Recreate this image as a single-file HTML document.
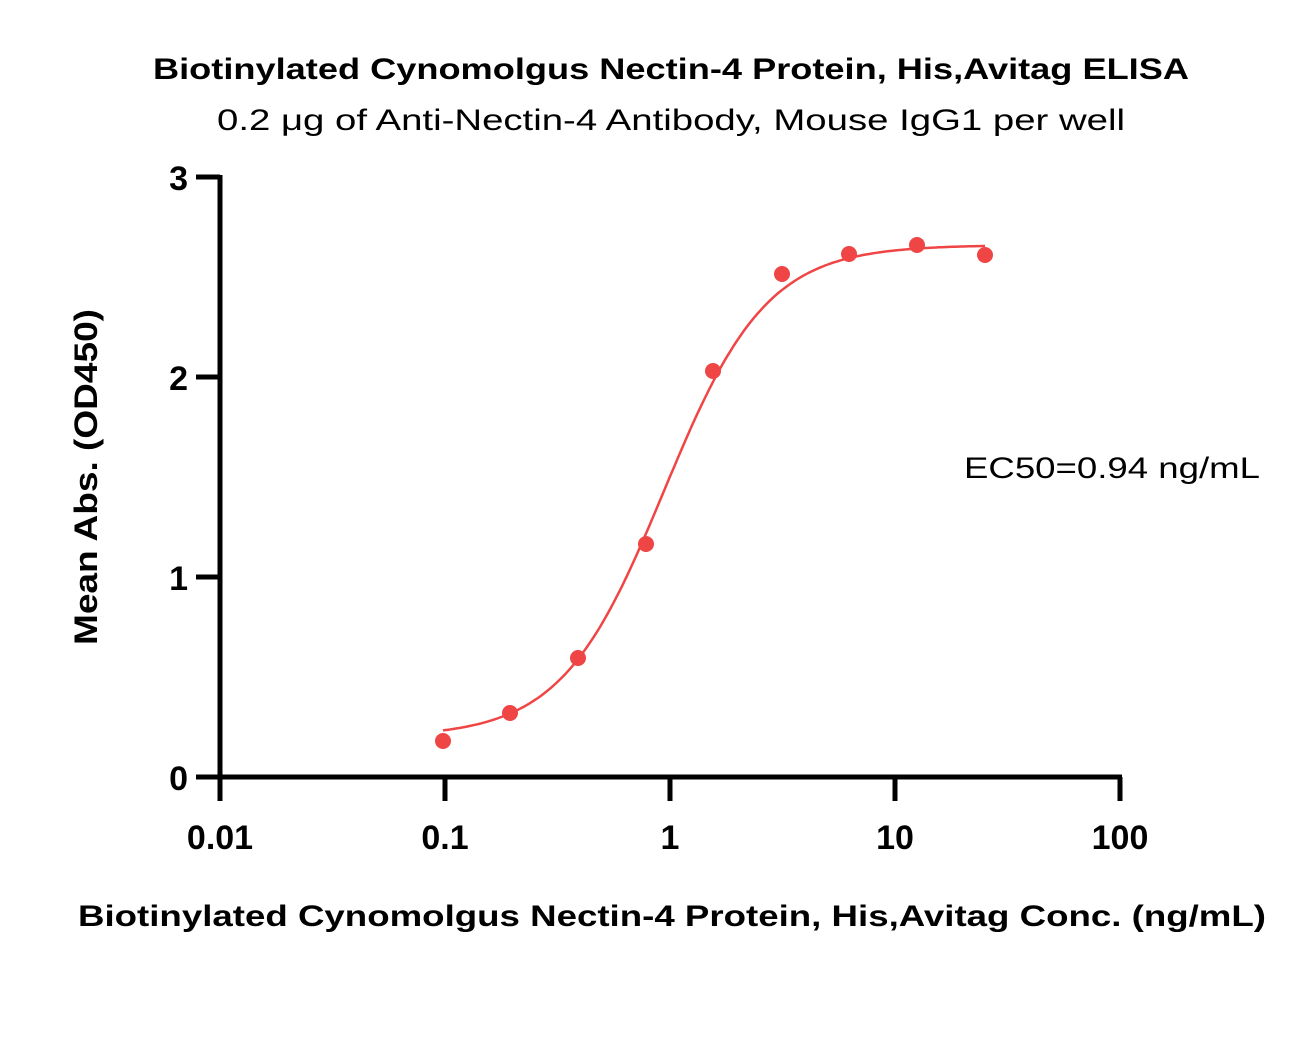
<!DOCTYPE html>
<html><head><meta charset="utf-8"><style>
body{margin:0;background:#fff;}
svg text{font-family:"Liberation Sans",Arial,sans-serif;}
</style></head><body>
<svg id="s" width="1310" height="1032" viewBox="0 0 1310 1032" xmlns="http://www.w3.org/2000/svg">
<rect width="1310" height="1032" fill="#fff"/>
<text x="671" y="79" text-anchor="middle" font-size="30" font-weight="bold" textLength="1036" lengthAdjust="spacingAndGlyphs">Biotinylated Cynomolgus Nectin-4 Protein, His,Avitag ELISA</text>
<text x="671" y="130" text-anchor="middle" font-size="30" textLength="908" lengthAdjust="spacingAndGlyphs">0.2 μg of Anti-Nectin-4 Antibody, Mouse IgG1 per well</text>
<g stroke="#000" stroke-width="5" fill="none">
<line x1="220" y1="175" x2="220" y2="779"/>
<line x1="218" y1="777" x2="1122" y2="777"/>
<line x1="196" y1="177" x2="220" y2="177"/>
<line x1="196" y1="377" x2="220" y2="377"/>
<line x1="196" y1="577" x2="220" y2="577"/>
<line x1="196" y1="777" x2="220" y2="777"/>
<line x1="220" y1="777" x2="220" y2="801"/>
<line x1="445" y1="777" x2="445" y2="801"/>
<line x1="670" y1="777" x2="670" y2="801"/>
<line x1="895" y1="777" x2="895" y2="801"/>
<line x1="1120" y1="777" x2="1120" y2="801"/>
</g>
<g font-size="34" font-weight="bold" text-anchor="end">
<text x="188" y="190">3</text><text x="188" y="390">2</text><text x="188" y="590">1</text><text x="188" y="790">0</text>
</g>
<g font-size="34" font-weight="bold" text-anchor="middle">
<text x="220" y="849">0.01</text><text x="445" y="849">0.1</text><text x="670" y="849">1</text><text x="895" y="849">10</text><text x="1120" y="849">100</text>
</g>
<text x="672" y="926" text-anchor="middle" font-size="30" font-weight="bold" textLength="1188" lengthAdjust="spacingAndGlyphs">Biotinylated Cynomolgus Nectin-4 Protein, His,Avitag Conc. (ng/mL)</text>
<text transform="translate(97,477) rotate(-90)" text-anchor="middle" font-size="32" font-weight="bold" textLength="336" lengthAdjust="spacingAndGlyphs">Mean Abs. (OD450)</text>
<text x="1112" y="478" text-anchor="middle" font-size="30" textLength="296" lengthAdjust="spacingAndGlyphs">EC50=0.94 ng/mL</text>
<path id="c" fill="none" stroke="#ef4545" stroke-width="2.5"/>
<g fill="#ef4545">
<circle cx="443" cy="741" r="8"/><circle cx="510" cy="713" r="8"/><circle cx="578" cy="658" r="8"/>
<circle cx="646" cy="544" r="8"/><circle cx="713" cy="371" r="8"/><circle cx="782" cy="274" r="8"/>
<circle cx="849" cy="254" r="8"/><circle cx="917" cy="245" r="8"/><circle cx="985" cy="255" r="8"/>
</g>
<script>
var d="";for(var i=0;i<=200;i++){var px=443+i*(985-443)/200;var lx=(px-220)/225-2;var x=Math.pow(10,lx);
var y=0.2+(2.66-0.2)/(1+Math.pow(0.94/x,1.9));var py=777-200*y;d+=(i?"L":"M")+px.toFixed(1)+","+py.toFixed(1);}
document.getElementById("c").setAttribute("d",d);
</script>
</svg>
</body></html>
